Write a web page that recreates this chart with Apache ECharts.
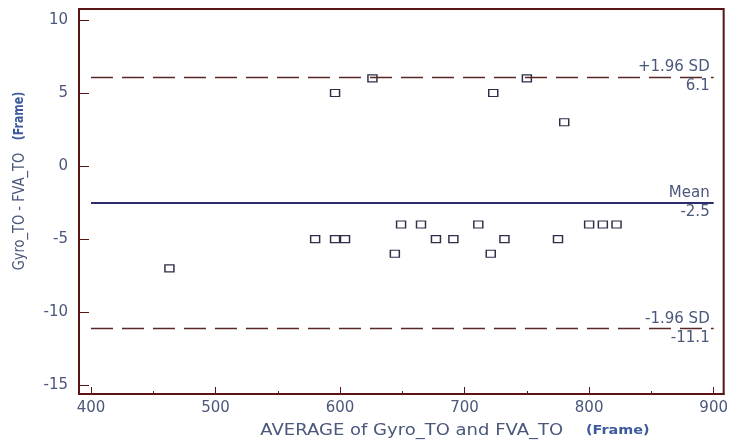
<!DOCTYPE html>
<html>
<head>
<meta charset="utf-8">
<script src="https://cdn.jsdelivr.net/npm/echarts@6/dist/echarts.min.js"></script>
<style>
  html, body { margin: 0; padding: 0; background: #fff; }
  #chart { width: 731px; height: 441px; }
</style>
</head>
<body>
<div id="chart"></div>
<script>
// Bland-Altman: mean of the two methods vs their difference (frames)
const averages = [463, 580, 596, 604, 596, 626, 644, 649, 665, 677, 691, 711, 723, 721, 732, 750, 780, 775, 800, 811, 822];
const differences = [-7, -5, -5, -5, 5, 6, -6, -4, -4, -5, -5, -4, 5, -6, -5, 6, 3, -5, -4, -4, -4];
const meanDiff = -2.5;
const upperLimit = 6.1;
const lowerLimit = -11.1;
const xTickLabels = [400, 500, 600, 700, 800, 900];
const xMinorTicks = [450, 550, 650, 750, 850];
const yTickLabels = [-15, -10, -5, 0, 5, 10];

const TEXT = '#4b577b';
const FRAME = '#5a1414';
const DASH = '#5a2626';
const FONT = '"DejaVu Sans", Verdana, sans-serif';

const points = averages.map((a, i) => [a, differences[i]]);
const lineStart = xTickLabels[0];
const lineEnd = xTickLabels[xTickLabels.length - 1];

const refLabel = { show: true, color: TEXT, fontSize: 15, fontFamily: FONT, distance: [4, 2] };

// each reference line: name above its right end, value below
function refLine(y, name, value, style) {
  return [
    [{ coord: [lineStart, y], lineStyle: style,
       label: Object.assign({}, refLabel, { position: 'insideEndTop', formatter: name }) },
     { coord: [lineEnd, y] }],
    [{ coord: [lineStart, y], lineStyle: { color: 'rgba(0,0,0,0)', width: 0 },
       label: Object.assign({}, refLabel, { position: 'insideEndBottom', formatter: value }) },
     { coord: [lineEnd, y] }]
  ];
}

const dashStyle = { color: DASH, width: 1.4, type: [22, 9] };
const meanStyle = { color: '#2d2d6b', width: 2, type: 'solid' };

const xBase = { type: 'value', min: 390.4, max: 908, splitLine: { show: false } };
const yBase = { type: 'value', min: -15.6, max: 10.75, splitLine: { show: false } };

const chart = echarts.init(document.getElementById('chart'), null, { renderer: 'canvas' });
chart.setOption({
  animation: false,
  backgroundColor: '#fff',
  grid: { left: 79, top: 9, right: 5, bottom: 47, show: true, borderColor: FRAME, borderWidth: 2, backgroundColor: 'transparent' },
  xAxis: [
    Object.assign({}, xBase, {
      axisLine: { show: true, onZero: false, lineStyle: { color: FRAME, width: 2 } },
      axisTick: { show: true, inside: true, length: 7, customValues: xTickLabels, lineStyle: { color: FRAME, width: 1 } },
      axisLabel: { customValues: xTickLabels, color: TEXT, fontSize: 15, fontFamily: FONT, margin: 7 }
    }),
    Object.assign({}, xBase, {
      position: 'bottom',
      axisLine: { show: false, onZero: false },
      axisTick: { show: true, inside: true, length: 3, customValues: xMinorTicks, lineStyle: { color: FRAME, width: 1 } },
      axisLabel: { show: false }
    })
  ],
  yAxis: Object.assign({}, yBase, {
    axisLine: { show: true, onZero: false, lineStyle: { color: FRAME, width: 2 } },
    axisTick: { show: true, inside: true, length: 10, customValues: yTickLabels, lineStyle: { color: FRAME, width: 1 } },
    axisLabel: { customValues: yTickLabels, color: TEXT, fontSize: 15, fontFamily: FONT, margin: 11 }
  }),
  series: [{
    type: 'scatter',
    xAxisIndex: 0,
    data: points,
    symbol: 'rect',
    symbolSize: [9, 7],
    itemStyle: { color: '#fff', borderColor: '#2e2e48', borderWidth: 1.3, opacity: 1 },
    markLine: {
      silent: true,
      symbol: ['none', 'none'],
      data: [].concat(
        refLine(upperLimit, '+1.96 SD', String(upperLimit), dashStyle),
        refLine(meanDiff, 'Mean', String(meanDiff), meanStyle),
        refLine(lowerLimit, '-1.96 SD', String(lowerLimit), dashStyle)
      )
    },
    z: 3
  }],
  graphic: [
    {
      type: 'text', x: 20, y: 181, rotation: Math.PI / 2, scaleY: 1.2,
      style: {
        text: 'Gyro_TO - FVA_TO   {b|(Frame)}',
        fill: TEXT, font: '13px ' + FONT, align: 'center', verticalAlign: 'middle',
        rich: { b: { fill: '#3d5a9c', font: 'bold 11px ' + FONT } }
      }
    },
    {
      type: 'text', x: 455, y: 431, scaleX: 1.2,
      style: {
        text: 'AVERAGE of Gyro_TO and FVA_TO    {b|(Frame)}',
        fill: TEXT, font: '15px ' + FONT, align: 'center', verticalAlign: 'middle',
        rich: { b: { fill: '#3d5a9c', font: 'bold 12px ' + FONT } }
      }
    }
  ]
});
</script>
</body>
</html>
